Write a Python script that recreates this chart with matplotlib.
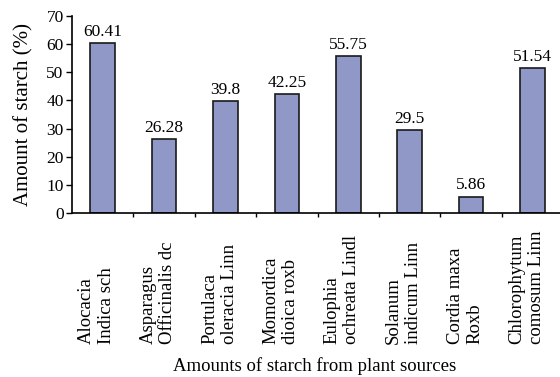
import matplotlib
matplotlib.use("Agg")
import matplotlib.pyplot as plt
import numpy as np

plt.rcParams['font.family'] = ['Liberation Serif', 'DejaVu Serif']

plants = ["Alocacia\nIndica sch", "Asparagus\nOfficinalis dc", "Portulaca\noleracia Linn",
          "Momordica\ndioica roxb", "Eulophia\nochreata Lindl", "Solanum\nindicum Linn",
          "Cordia maxa\nRoxb", "Chlorophytum\ncomosum Linn"]
starch = [60.41, 26.28, 39.8, 42.25, 55.75, 29.5, 5.86, 51.54]
value_labels = ["60.41", "26.28", "39.8", "42.25", "55.75", "29.5", "5.86", "51.54"]

fig = plt.figure(figsize=(5.6, 3.77), dpi=100)
ax = fig.add_axes([0.1286, 0.435, 0.877, 0.5225])

x = np.arange(len(plants))
bars = ax.bar(x, starch, width=0.4, color='#9098c8', edgecolor='#1a1a1a', linewidth=1.2)

for xi, v, lab in zip(x, starch, value_labels):
    ax.text(xi, v + 1.2, lab, ha='center', va='bottom', fontsize=12.5)

ax.set_xlim(-0.5, len(plants) - 0.5)
ax.set_ylim(0, 70)
ax.set_yticks(range(0, 71, 10))
ax.tick_params(axis='y', labelsize=12.5, length=4, width=1, direction='out', pad=2)
ax.set_xticks(x[:-1] + 0.5)
ax.set_xticklabels([])
ax.tick_params(axis='x', length=3, width=1, direction='out')

for s in ['top', 'right']:
    ax.spines[s].set_visible(False)
for s in ['left', 'bottom']:
    ax.spines[s].set_linewidth(1.2)

# category names written upward below the axis
for xi, name in zip(x, plants):
    ax.text(xi - 0.1, -0.665, name, transform=ax.get_xaxis_transform(), rotation=90,
            ha='center', va='bottom', multialignment='left', fontsize=13.5, linespacing=1.2)

ax.set_ylabel('Amount of starch (%)', fontsize=15, labelpad=9)
fig.text(0.562, 0.03, 'Amounts of starch from plant sources', ha='center', va='center',
         fontsize=13.5)

fig.savefig('out.png', dpi=100)
